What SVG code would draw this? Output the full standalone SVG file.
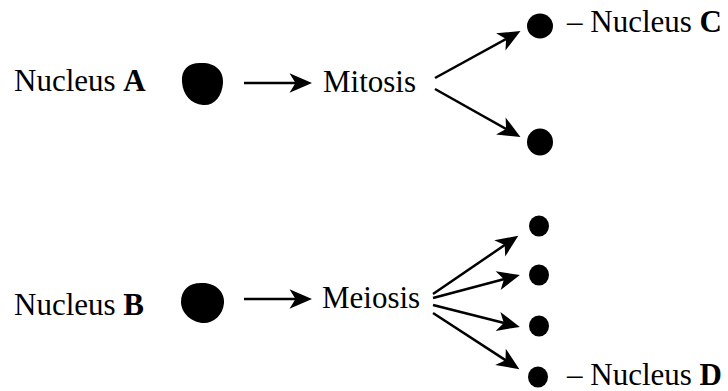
<svg xmlns="http://www.w3.org/2000/svg" width="728" height="391" viewBox="0 0 728 391">
  <style>
    .t { font-family: "Liberation Serif", "Times New Roman", serif; font-size: 31px; fill: #000; }
    .b { font-weight: bold; }
    .c { stroke: #000; stroke-width: 2.5; fill: none; }
    .n { fill: #000; }
  </style>
  <defs>
    <marker id="ah" markerUnits="userSpaceOnUse" orient="auto" refX="0" refY="0" markerWidth="30" markerHeight="30" viewBox="-10 -10 20 20" overflow="visible">
      <path d="M8,0 L-7,-6.5 L-3,0 L-7,6.5 Z" fill="#000"/>
    </marker>
  </defs>
  <rect width="728" height="391" fill="#fff"/>

  <g id="labelA"><text class="t" x="14" y="91">Nucleus <tspan class="b">A</tspan></text></g>
  <g id="nucleusA"><path class="n" d="M200,63 C214,62 224,70 223,83 C222,97 214,106 203,105 C191,104 183,95 182,82 C181,70 188,63 200,63 Z"/></g>
  <g id="mitosis"><text class="t" x="323" y="92">Mitosis</text></g>
  <g id="nucleusC"><ellipse class="n" cx="540" cy="26" rx="13" ry="12.5"/></g>
  <g id="labelC"><text class="t" x="567" y="32">– Nucleus <tspan class="b">C</tspan></text></g>
  <g id="nucleusC2"><ellipse class="n" cx="540" cy="142" rx="13" ry="13.5"/></g>

  <g id="labelB"><text class="t" x="14" y="315">Nucleus <tspan class="b">B</tspan></text></g>
  <g id="nucleusB"><path class="n" d="M201,283 C215,282 225,292 224,303 C223,315 214,323 204,323 C192,323 181,313 181,302 C181,290 189,283 201,283 Z"/></g>
  <g id="meiosis"><text class="t" x="322" y="308">Meiosis</text></g>
  <g id="d1"><ellipse class="n" cx="539" cy="226" rx="10" ry="10.5"/></g>
  <g id="d2"><ellipse class="n" cx="539" cy="275" rx="10" ry="10.5"/></g>
  <g id="d3"><ellipse class="n" cx="539" cy="326" rx="10" ry="10.5"/></g>
  <g id="nucleusD"><ellipse class="n" cx="538" cy="377" rx="10" ry="10.5"/></g>
  <g id="labelD"><text class="t" x="567" y="385">– Nucleus <tspan class="b">D</tspan></text></g>

  <g id="connectors">
    <line class="c" x1="244" y1="83" x2="300" y2="83" marker-end="url(#ah)"/>
    <line class="c" x1="435" y1="78" x2="510" y2="36.8" marker-end="url(#ah)"/>
    <line class="c" x1="435" y1="89" x2="510" y2="131.1" marker-end="url(#ah)"/>
    <line class="c" x1="244" y1="299" x2="300" y2="299" marker-end="url(#ah)"/>
    <line class="c" x1="433" y1="294" x2="508.4" y2="242.5" marker-end="url(#ah)"/>
    <line class="c" x1="433" y1="298" x2="508.3" y2="278" marker-end="url(#ah)"/>
    <line class="c" x1="433" y1="305" x2="508.2" y2="324" marker-end="url(#ah)"/>
    <line class="c" x1="433" y1="313" x2="509.3" y2="362.6" marker-end="url(#ah)"/>
  </g>
</svg>
